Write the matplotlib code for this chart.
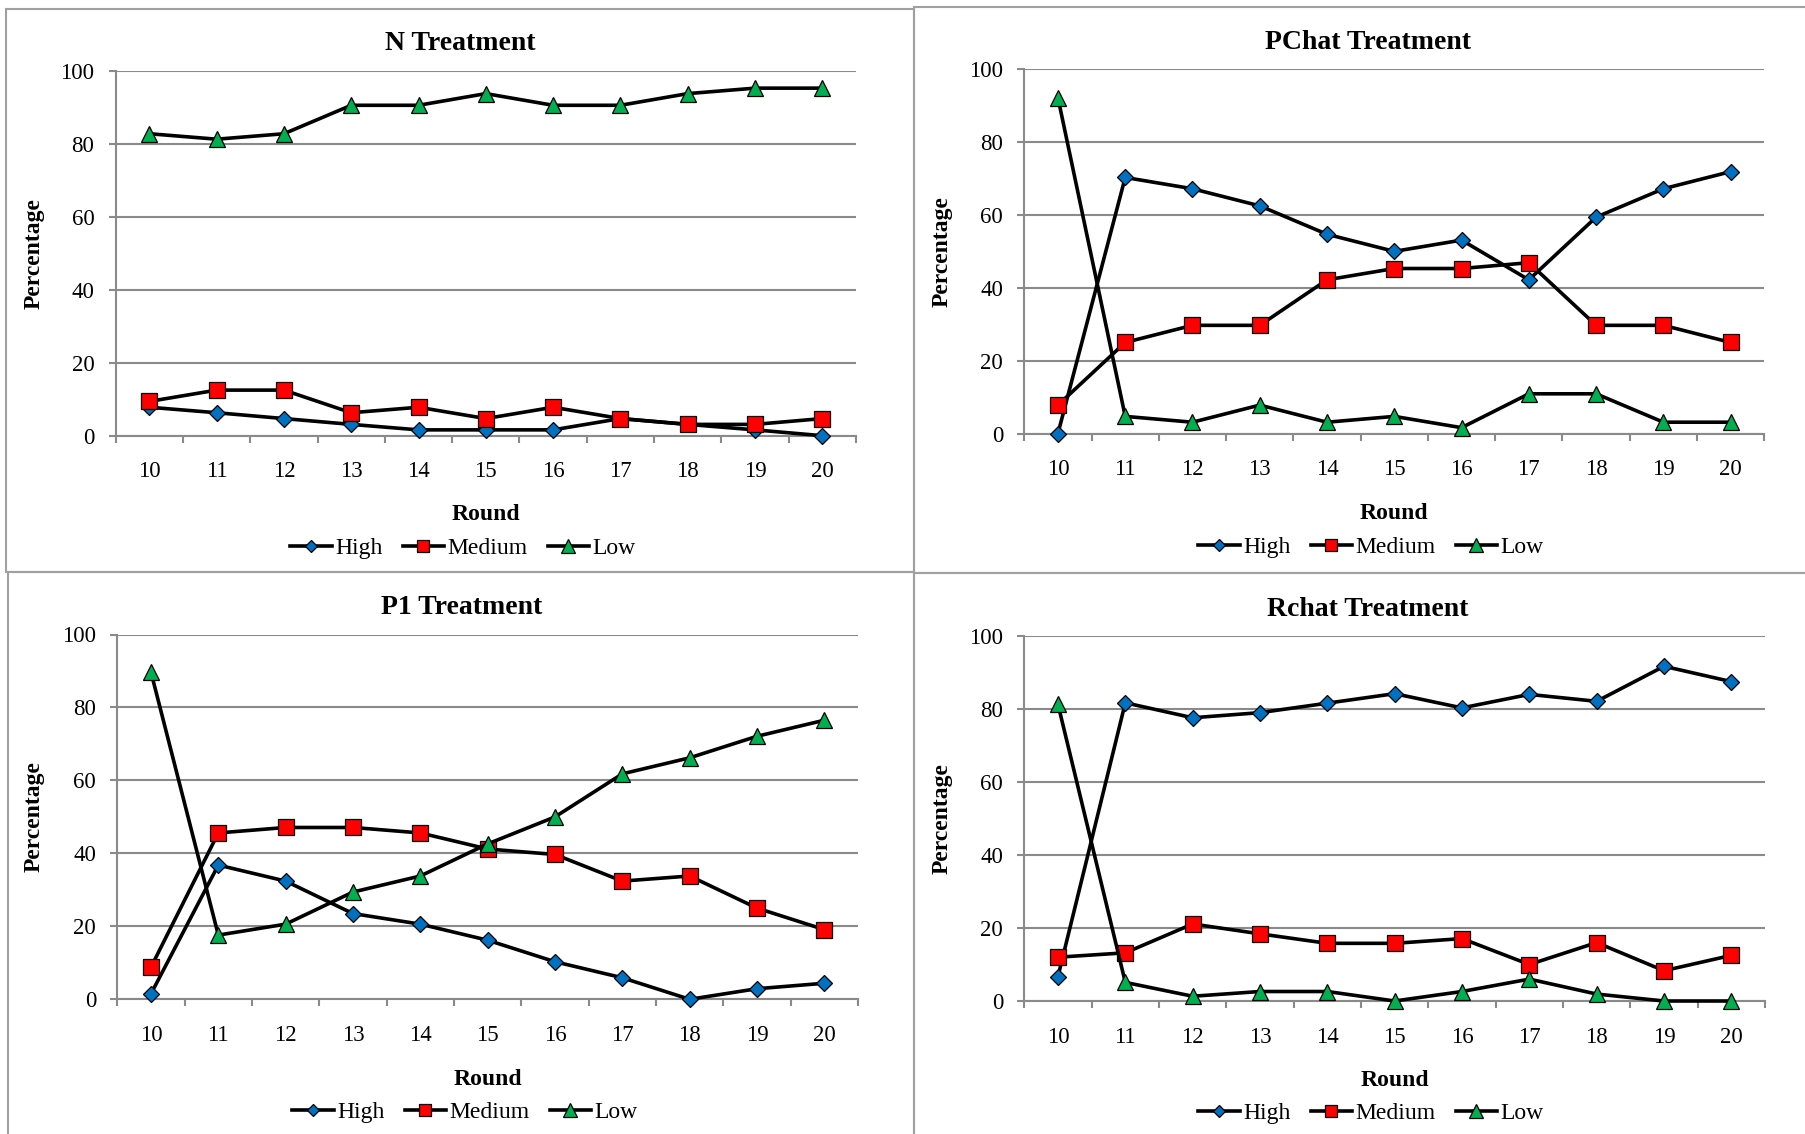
import matplotlib
matplotlib.use("Agg")
import matplotlib.pyplot as plt
from matplotlib.patches import Rectangle
from matplotlib.lines import Line2D

plt.rcParams['font.family'] = ['Liberation Serif', 'DejaVu Serif']

# Data: percentage of choices by round, per treatment
rounds = [10, 11, 12, 13, 14, 15, 16, 17, 18, 19, 20]

n_high = [7.8, 6.3, 4.7, 3.1, 1.6, 1.6, 1.6, 4.7, 3.1, 1.6, 0.0]
n_medium = [9.4, 12.5, 12.5, 6.3, 7.8, 4.7, 7.8, 4.7, 3.1, 3.1, 4.7]
n_low = [82.8, 81.3, 82.8, 90.6, 90.6, 93.8, 90.6, 90.6, 93.8, 95.3, 95.3]

pchat_high = [0.0, 70.3, 67.2, 62.5, 54.7, 50.0, 53.1, 42.2, 59.4, 67.2, 71.9]
pchat_medium = [7.8, 25.0, 29.7, 29.7, 42.2, 45.3, 45.3, 46.9, 29.7, 29.7, 25.0]
pchat_low = [92.2, 4.7, 3.1, 7.8, 3.1, 4.7, 1.6, 10.9, 10.9, 3.1, 3.1]

p1_high = [1.5, 36.8, 32.4, 23.5, 20.6, 16.2, 10.3, 5.9, 0.0, 2.9, 4.4]
p1_medium = [8.8, 45.6, 47.1, 47.1, 45.6, 41.2, 39.7, 32.4, 33.8, 25.0, 19.1]
p1_low = [89.7, 17.6, 20.6, 29.4, 33.8, 42.6, 50.0, 61.8, 66.2, 72.1, 76.5]

rchat_high = [6.7, 81.7, 77.6, 79.0, 81.6, 84.2, 80.3, 84.0, 82.1, 91.7, 87.5]
rchat_medium = [12.0, 13.2, 21.1, 18.4, 15.8, 15.8, 17.1, 10.0, 16.0, 8.3, 12.5]
rchat_low = [81.3, 5.1, 1.3, 2.6, 2.6, 0.0, 2.6, 6.0, 1.9, 0.0, 0.0]

titles = ["N Treatment", "PChat Treatment", "P1 Treatment", "Rchat Treatment"]
series_labels = ["High", "Medium", "Low"]
yticks = [0, 20, 40, 60, 80, 100]

W, H = 1806, 1134
fig = plt.figure(figsize=(W / 100, H / 100), dpi=100)


def fx(x):
    return x / W


def fy(y):
    return 1 - y / H


# layout in pixels: box, axes (left, top, right, bottom), title pos, legend pos, label pos
layout = [
    dict(box=(6, 8.5, 914, 572), ax=(115.7, 71, 856, 435.7), title=(460, 43.5),
         legend=(463, 548.5), ylab=34.5, xlab=514.5),
    dict(box=(914, 6.7, 1812, 573), ax=(1024.3, 69.3, 1764.3, 433.5), title=(1368, 42.5),
         legend=(1371, 547.5), ylab=942, xlab=513.5),
    dict(box=(7.7, 572, 914, 1140), ax=(117.3, 634.5, 858, 999.3), title=(462, 607.5),
         legend=(465, 1112.5), ylab=34.5, xlab=1079.5),
    dict(box=(914, 573, 1812, 1140), ax=(1024.3, 636, 1765, 1001), title=(1368, 609.5),
         legend=(1371, 1113.5), ylab=942, xlab=1080.5),
]

data = [
    (n_high, n_medium, n_low),
    (pchat_high, pchat_medium, pchat_low),
    (p1_high, p1_medium, p1_low),
    (rchat_high, rchat_medium, rchat_low),
]

styles = [
    dict(marker='D', color='#0070C0', ms=8.0),
    dict(marker='s', color='#FF0000', ms=11.5),
    dict(marker='^', color='#00B050', ms=12.0),
]

grid_col = '#8a8a8a'
box_col = '#a0a0a0'

for title, lay, series in zip(titles, layout, data):
    bx0, by0, bx1, by1 = lay['box']
    fig.patches.append(Rectangle((fx(bx0), fy(by1)), fx(bx1 - bx0), (by1 - by0) / H,
                                 transform=fig.transFigure, fill=False,
                                 edgecolor=box_col, lw=1.5, zorder=0))
    l, t, r, b = lay['ax']
    ax = fig.add_axes([fx(l), fy(b), fx(r - l), (b - t) / H])
    ax.set_xlim(9.5, 20.5)
    ax.set_ylim(0, 100)

    for vals, st in zip(series, styles):
        ax.plot(rounds, vals, color='black', lw=2.6, marker=st['marker'],
                ms=st['ms'], markerfacecolor=st['color'], markeredgecolor='black',
                markeredgewidth=0.9, clip_on=False, zorder=3)

    ax.set_yticks(yticks)
    ax.yaxis.grid(True, color=grid_col, lw=1.5)
    ax.set_axisbelow(True)
    ax.set_xticks(rounds)
    ax.set_xticks([x + 0.5 for x in range(9, 21)], minor=True)
    ax.tick_params(axis='x', which='major', length=0, pad=18.5, labelsize=16.5)
    ax.tick_params(axis='x', which='minor', length=4.8, width=1.5, color=grid_col)
    ax.tick_params(axis='y', which='major', length=4.8, width=1.5, color=grid_col,
                   pad=10.5, labelsize=16.5)
    for side in ('top', 'right'):
        ax.spines[side].set_visible(False)
    for side in ('left', 'bottom'):
        ax.spines[side].set_color(grid_col)
        ax.spines[side].set_linewidth(1.5)

    fig.text(fx(lay['title'][0]), fy(lay['title'][1]), title, ha='center', va='center',
             fontsize=20, fontweight='bold')
    fig.text(fx((l + r) / 2), fy(lay['xlab']), "Round", ha='center', va='center',
             fontsize=17, fontweight='bold')
    fig.text(fx(lay['ylab']), fy((t + b) / 2), "Percentage", ha='center', va='center',
             rotation=90, fontsize=17, fontweight='bold')

    handles = [Line2D([], [], color='black', lw=2.6, marker=st['marker'],
                      ms=st['ms'] * 0.8, markerfacecolor=st['color'],
                      markeredgecolor='black', markeredgewidth=0.9)
               for st in styles]
    fig.legend(handles, series_labels, loc='center', ncol=3,
               bbox_to_anchor=(fx(lay['legend'][0]), fy(lay['legend'][1])),
               bbox_transform=fig.transFigure, frameon=False, fontsize=17,
               handlelength=1.75, handletextpad=0.15, columnspacing=0.85,
               borderpad=0, borderaxespad=0)

fig.savefig("out.png", dpi=100)
